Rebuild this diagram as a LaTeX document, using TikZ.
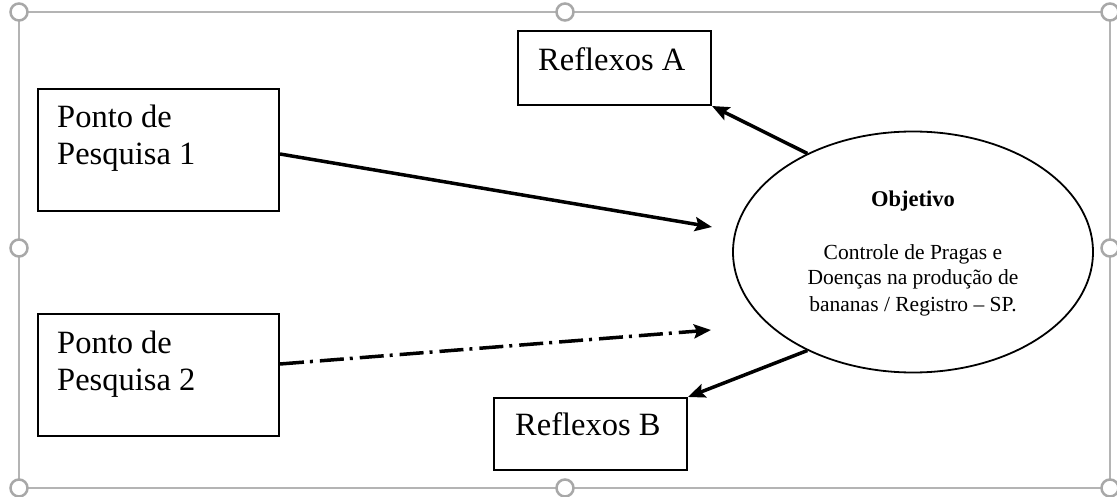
\documentclass[tikz,border=0pt]{standalone}
\usepackage{fontspec}
\setmainfont{Liberation Serif}
\usetikzlibrary{shapes.geometric,arrows.meta,calc}
\definecolor{framegray}{HTML}{B4B4B4}
\definecolor{handlegray}{HTML}{A8A8A8}
\tikzset{
  boxnode/.style={draw=black, line width=2pt, rectangle, inner sep=0pt, anchor=north west},
  bigtext/.style={anchor=base west, inner sep=0pt, font=\fontsize{32.5}{37}\selectfont},
  smalltext/.style={anchor=base, inner sep=0pt, font=\fontsize{21.5}{25}\selectfont},
  conn/.style={line width=3.5pt, -{Stealth[length=17pt,width=14pt,inset=3pt]}},
  dashdotconn/.style={conn, dash pattern=on 24pt off 6pt on 3pt off 7pt},
  handle/.style={circle, draw=handlegray, line width=2.5pt, fill=white, minimum size=17pt, inner sep=0pt},
}
\begin{document}
\begin{tikzpicture}[x=1pt,y=-1pt]
\useasboundingbox (0,0) rectangle (1117,497);
% selection frame
\draw[framegray, line width=2pt] (19,12) rectangle (1110,488);
\foreach \n/\px/\py in {h1/19/12, h2/565/12, h3/1110/12, h4/19/248, h5/1110/248, h6/19/488, h7/565/488, h8/1110/488}
  \node[handle] (\n) at (\px,\py) {};
% boxes
\node[boxnode, minimum width=241pt, minimum height=122pt] (pp1) at (37,88) {};
\node[boxnode, minimum width=241pt, minimum height=122pt] (pp2) at (37,313) {};
\node[boxnode, minimum width=193pt, minimum height=74pt] (ra) at (517,30) {};
\node[boxnode, minimum width=193pt, minimum height=72pt] (rb) at (493,397) {};
% box texts
\node[bigtext] (t1a) at (57,128) {Ponto de};
\node[bigtext] (t1b) at (57,165) {Pesquisa 1};
\node[bigtext] (t2a) at (57,353) {Ponto de};
\node[bigtext] (t2b) at (57,390) {Pesquisa 2};
\node[bigtext] (tra) at (538,71) {Reflexos A};
\node[bigtext] (trb) at (515,435) {Reflexos B};
% ellipse
\node[ellipse, draw=black, line width=1.8pt, minimum width=360pt, minimum height=241pt, inner sep=0pt] (obj) at (913,252) {};
\node[smalltext, font=\fontsize{22.5}{25}\selectfont\bfseries] (o0) at (913,207) {Objetivo};
\node[smalltext] (o1) at (913,260) {Controle de Pragas e};
\node[smalltext] (o2) at (913,285) {Doenças na produção de};
\node[smalltext] (o3) at (913,311) {bananas / Registro – SP.};
% connectors
\coordinate (e1) at (712,227);
\coordinate (e2) at (711,330);
\draw[conn] ($(pp1.east)+(0,4)$) -- (e1);
\draw[dashdotconn] ($(pp2.east)+(0,-11)$) -- (e2);
\draw[conn] (obj.137) -- (ra.south east);
\draw[conn] (obj.223) -- (rb.north east);
\end{tikzpicture}
\end{document}
